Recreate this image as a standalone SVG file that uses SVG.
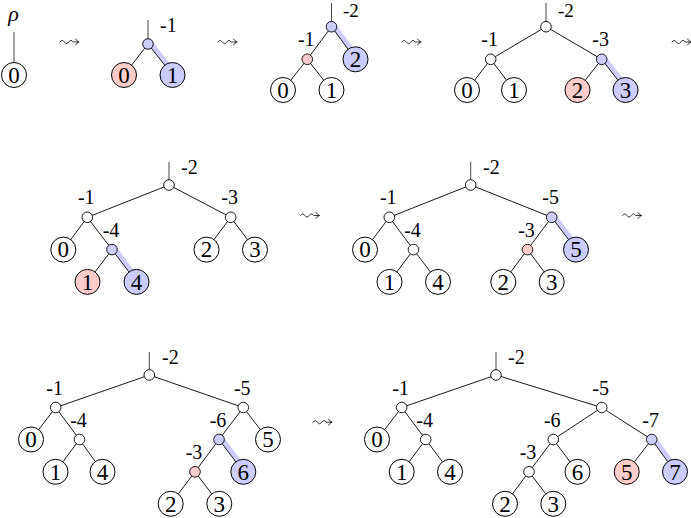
<svg xmlns="http://www.w3.org/2000/svg" width="691" height="518" viewBox="0 0 691 518" font-family="Liberation Serif, DejaVu Serif, serif">
<style>
.e{stroke:#000;stroke-width:0.9;fill:none}
.s{stroke:#444;stroke-width:1;fill:none}
.h{stroke:#ccccff;stroke-width:5;fill:none}
.lf{fill:#fff;stroke:#000;stroke-width:1}
.in{fill:#fff;stroke:#000;stroke-width:0.9}
.pk{fill:#ffcccc}
.bl{fill:#ccccff}
.sqp{fill:none;stroke:#000;stroke-width:0.8;stroke-linecap:round;stroke-linejoin:round}
.d{font-size:23px;text-anchor:middle}
.l{font-size:20px;text-anchor:middle}
.r{font-size:20px;text-anchor:start}
.rho{font-size:22px;font-style:italic;text-anchor:middle}
</style>
<defs>
<g id="sq"><path class="sqp" d="M0,0.5 q2.2,-3.2 4.4,0 t4.4,0 t4.4,0 l5.6,0 M15.5,-2.5 q1.2,2 3.4,3 q-2.2,1 -3.4,3"/></g>
</defs>
<rect width="691" height="518" fill="#fff"/>
<g id="connectors">
<line class="h" x1="150" y1="42.5" x2="174.5" y2="73.5"/>
<line class="h" x1="333.5" y1="25.2" x2="357.5" y2="57.8"/>
<line class="h" x1="603.7" y1="57.8" x2="627.5" y2="88.5"/>
<line class="h" x1="114" y1="248.1" x2="138.5" y2="280.4"/>
<line class="h" x1="553.7" y1="215.8" x2="578" y2="248.1"/>
<line class="h" x1="221" y1="438" x2="245.3" y2="470.3"/>
<line class="h" x1="653.7" y1="438" x2="677" y2="470.3"/>
<line class="s" x1="14" y1="32" x2="14" y2="62.5"/>
<line class="s" x1="148" y1="20" x2="148" y2="44"/>
<line class="s" x1="331.5" y1="3" x2="331.5" y2="26.7"/>
<line class="s" x1="546" y1="3" x2="546" y2="26.7"/>
<line class="s" x1="169" y1="162" x2="169" y2="185"/>
<line class="s" x1="470.7" y1="162" x2="470.7" y2="185"/>
<line class="s" x1="149.3" y1="352" x2="149.3" y2="375"/>
<line class="s" x1="496" y1="352" x2="496" y2="375"/>
<line class="e" x1="148" y1="44" x2="124" y2="75"/>
<line class="e" x1="148" y1="44" x2="172.5" y2="75"/>
<line class="e" x1="331.5" y1="26.7" x2="307.3" y2="59.3"/>
<line class="e" x1="331.5" y1="26.7" x2="355.5" y2="59.3"/>
<line class="e" x1="307.3" y1="59.3" x2="283" y2="90"/>
<line class="e" x1="307.3" y1="59.3" x2="331.5" y2="90"/>
<line class="e" x1="546" y1="26.7" x2="490.7" y2="59.3"/>
<line class="e" x1="546" y1="26.7" x2="601.7" y2="59.3"/>
<line class="e" x1="490.7" y1="59.3" x2="467" y2="90"/>
<line class="e" x1="490.7" y1="59.3" x2="514" y2="90"/>
<line class="e" x1="601.7" y1="59.3" x2="577.5" y2="90"/>
<line class="e" x1="601.7" y1="59.3" x2="625.5" y2="90"/>
<line class="e" x1="169" y1="185" x2="87.3" y2="217.3"/>
<line class="e" x1="169" y1="185" x2="230.7" y2="217.3"/>
<line class="e" x1="87.3" y1="217.3" x2="63.3" y2="249.6"/>
<line class="e" x1="87.3" y1="217.3" x2="112" y2="249.6"/>
<line class="e" x1="112" y1="249.6" x2="87.5" y2="281.9"/>
<line class="e" x1="112" y1="249.6" x2="136.5" y2="281.9"/>
<line class="e" x1="230.7" y1="217.3" x2="206.5" y2="249.6"/>
<line class="e" x1="230.7" y1="217.3" x2="255" y2="249.6"/>
<line class="e" x1="470.7" y1="185" x2="389.3" y2="217.3"/>
<line class="e" x1="470.7" y1="185" x2="551.7" y2="217.3"/>
<line class="e" x1="389.3" y1="217.3" x2="365" y2="249.6"/>
<line class="e" x1="389.3" y1="217.3" x2="413.5" y2="249.6"/>
<line class="e" x1="413.5" y1="249.6" x2="389.5" y2="281.9"/>
<line class="e" x1="413.5" y1="249.6" x2="438" y2="281.9"/>
<line class="e" x1="551.7" y1="217.3" x2="527.5" y2="249.6"/>
<line class="e" x1="551.7" y1="217.3" x2="576" y2="249.6"/>
<line class="e" x1="527.5" y1="249.6" x2="503.3" y2="281.9"/>
<line class="e" x1="527.5" y1="249.6" x2="551.7" y2="281.9"/>
<line class="e" x1="149.3" y1="375" x2="55.7" y2="407.5"/>
<line class="e" x1="149.3" y1="375" x2="243.3" y2="407.5"/>
<line class="e" x1="55.7" y1="407.5" x2="31" y2="439.5"/>
<line class="e" x1="55.7" y1="407.5" x2="79.5" y2="439.5"/>
<line class="e" x1="79.5" y1="439.5" x2="55.5" y2="471.8"/>
<line class="e" x1="79.5" y1="439.5" x2="102.5" y2="471.8"/>
<line class="e" x1="243.3" y1="407.5" x2="219" y2="439.5"/>
<line class="e" x1="243.3" y1="407.5" x2="268" y2="439.5"/>
<line class="e" x1="219" y1="439.5" x2="195" y2="471.8"/>
<line class="e" x1="219" y1="439.5" x2="243.3" y2="471.8"/>
<line class="e" x1="195" y1="471.8" x2="170.7" y2="503.8"/>
<line class="e" x1="195" y1="471.8" x2="219.3" y2="503.8"/>
<line class="e" x1="496" y1="375" x2="401.7" y2="407.5"/>
<line class="e" x1="496" y1="375" x2="601.7" y2="407.5"/>
<line class="e" x1="401.7" y1="407.5" x2="377" y2="439.5"/>
<line class="e" x1="401.7" y1="407.5" x2="425.7" y2="439.5"/>
<line class="e" x1="425.7" y1="439.5" x2="401.7" y2="471.8"/>
<line class="e" x1="425.7" y1="439.5" x2="450" y2="471.8"/>
<line class="e" x1="601.7" y1="407.5" x2="553.3" y2="439.5"/>
<line class="e" x1="601.7" y1="407.5" x2="651.7" y2="439.5"/>
<line class="e" x1="553.3" y1="439.5" x2="529" y2="471.8"/>
<line class="e" x1="553.3" y1="439.5" x2="577.5" y2="471.8"/>
<line class="e" x1="529" y1="471.8" x2="505" y2="503.8"/>
<line class="e" x1="529" y1="471.8" x2="553.3" y2="503.8"/>
<line class="e" x1="651.7" y1="439.5" x2="626.7" y2="471.8"/>
<line class="e" x1="651.7" y1="439.5" x2="675" y2="471.8"/>
</g>
<g id="arrows">
<use href="#sq" x="60" y="41.5"/>
<use href="#sq" x="218" y="41.5"/>
<use href="#sq" x="402" y="41.5"/>
<use href="#sq" x="672" y="41.5"/>
<use href="#sq" x="300.5" y="215"/>
<use href="#sq" x="622.5" y="215"/>
<use href="#sq" x="313" y="421.7"/>
</g>
<g id="p1-rho"><text class="rho" x="13.5" y="21">ρ</text></g>
<g id="p1-leaf0"><circle class="lf" cx="14" cy="75" r="12.5"/><text class="d" x="14" y="82.7">0</text></g>
<g id="p2-n1"><circle class="in bl" cx="148" cy="44" r="5.3"/><text class="r" x="160" y="32">-1</text></g>
<g id="p2-leaf0"><circle class="lf pk" cx="124" cy="75" r="12.5"/><text class="d" x="124" y="82.7">0</text></g>
<g id="p2-leaf1"><circle class="lf bl" cx="172.5" cy="75" r="12.5"/><text class="d" x="172.5" y="82.7">1</text></g>
<g id="p3-n2"><circle class="in bl" cx="331.5" cy="26.7" r="5.3"/><text class="r" x="343" y="17" style="font-size:19px">-2</text></g>
<g id="p3-n1"><circle class="in pk" cx="307.3" cy="59.3" r="5.3"/><text class="l" x="306.3" y="46.3">-1</text></g>
<g id="p3-leaf2"><circle class="lf bl" cx="355.5" cy="59.3" r="12.5"/><text class="d" x="355.5" y="67">2</text></g>
<g id="p3-leaf0"><circle class="lf" cx="283" cy="90" r="12.5"/><text class="d" x="283" y="97.7">0</text></g>
<g id="p3-leaf1"><circle class="lf" cx="331.5" cy="90" r="12.5"/><text class="d" x="331.5" y="97.7">1</text></g>
<g id="p4-n2"><circle class="in" cx="546" cy="26.7" r="5.3"/><text class="r" x="558" y="17" style="font-size:19px">-2</text></g>
<g id="p4-n1"><circle class="in" cx="490.7" cy="59.3" r="5.3"/><text class="l" x="489.7" y="46.3">-1</text></g>
<g id="p4-n3"><circle class="in bl" cx="601.7" cy="59.3" r="5.3"/><text class="l" x="600.7" y="46.3">-3</text></g>
<g id="p4-leaf0"><circle class="lf" cx="467" cy="90" r="12.5"/><text class="d" x="467" y="97.7">0</text></g>
<g id="p4-leaf1"><circle class="lf" cx="514" cy="90" r="12.5"/><text class="d" x="514" y="97.7">1</text></g>
<g id="p4-leaf2"><circle class="lf pk" cx="577.5" cy="90" r="12.5"/><text class="d" x="577.5" y="97.7">2</text></g>
<g id="p4-leaf3"><circle class="lf bl" cx="625.5" cy="90" r="12.5"/><text class="d" x="625.5" y="97.7">3</text></g>
<g id="p5-n2"><circle class="in" cx="169" cy="185" r="5.3"/><text class="r" x="181" y="173.5">-2</text></g>
<g id="p5-n1"><circle class="in" cx="87.3" cy="217.3" r="5.3"/><text class="l" x="86.3" y="204.3">-1</text></g>
<g id="p5-n3"><circle class="in" cx="230.7" cy="217.3" r="5.3"/><text class="l" x="229.7" y="204.3">-3</text></g>
<g id="p5-n4"><circle class="in bl" cx="112" cy="249.6" r="5.3"/><text class="l" x="111" y="236.6">-4</text></g>
<g id="p5-leaf0"><circle class="lf" cx="63.3" cy="249.6" r="12.5"/><text class="d" x="63.3" y="257.3">0</text></g>
<g id="p5-leaf2"><circle class="lf" cx="206.5" cy="249.6" r="12.5"/><text class="d" x="206.5" y="257.3">2</text></g>
<g id="p5-leaf3"><circle class="lf" cx="255" cy="249.6" r="12.5"/><text class="d" x="255" y="257.3">3</text></g>
<g id="p5-leaf1"><circle class="lf pk" cx="87.5" cy="281.9" r="12.5"/><text class="d" x="87.5" y="289.6">1</text></g>
<g id="p5-leaf4"><circle class="lf bl" cx="136.5" cy="281.9" r="12.5"/><text class="d" x="136.5" y="289.6">4</text></g>
<g id="p6-n2"><circle class="in" cx="470.7" cy="185" r="5.3"/><text class="r" x="483" y="173.5">-2</text></g>
<g id="p6-n1"><circle class="in" cx="389.3" cy="217.3" r="5.3"/><text class="l" x="388.3" y="204.3">-1</text></g>
<g id="p6-n5"><circle class="in bl" cx="551.7" cy="217.3" r="5.3"/><text class="l" x="550.7" y="204.3">-5</text></g>
<g id="p6-n4"><circle class="in" cx="413.5" cy="249.6" r="5.3"/><text class="l" x="412.5" y="236.6">-4</text></g>
<g id="p6-n3"><circle class="in pk" cx="527.5" cy="249.6" r="5.3"/><text class="l" x="526.5" y="236.6">-3</text></g>
<g id="p6-leaf0"><circle class="lf" cx="365" cy="249.6" r="12.5"/><text class="d" x="365" y="257.3">0</text></g>
<g id="p6-leaf5"><circle class="lf bl" cx="576" cy="249.6" r="12.5"/><text class="d" x="576" y="257.3">5</text></g>
<g id="p6-leaf1"><circle class="lf" cx="389.5" cy="281.9" r="12.5"/><text class="d" x="389.5" y="289.6">1</text></g>
<g id="p6-leaf4"><circle class="lf" cx="438" cy="281.9" r="12.5"/><text class="d" x="438" y="289.6">4</text></g>
<g id="p6-leaf2"><circle class="lf" cx="503.3" cy="281.9" r="12.5"/><text class="d" x="503.3" y="289.6">2</text></g>
<g id="p6-leaf3"><circle class="lf" cx="551.7" cy="281.9" r="12.5"/><text class="d" x="551.7" y="289.6">3</text></g>
<g id="p7-n2"><circle class="in" cx="149.3" cy="375" r="5.3"/><text class="r" x="162" y="363.5">-2</text></g>
<g id="p7-n1"><circle class="in" cx="55.7" cy="407.5" r="5.3"/><text class="l" x="54.7" y="394.5">-1</text></g>
<g id="p7-n5"><circle class="in" cx="243.3" cy="407.5" r="5.3"/><text class="l" x="242.3" y="394.5">-5</text></g>
<g id="p7-n4"><circle class="in" cx="79.5" cy="439.5" r="5.3"/><text class="l" x="78.5" y="426.5">-4</text></g>
<g id="p7-n6"><circle class="in bl" cx="219" cy="439.5" r="5.3"/><text class="l" x="218" y="426.5">-6</text></g>
<g id="p7-n3"><circle class="in pk" cx="195" cy="471.8" r="5.3"/><text class="l" x="194" y="458.8">-3</text></g>
<g id="p7-leaf0"><circle class="lf" cx="31" cy="439.5" r="12.5"/><text class="d" x="31" y="447.2">0</text></g>
<g id="p7-leaf5"><circle class="lf" cx="268" cy="439.5" r="12.5"/><text class="d" x="268" y="447.2">5</text></g>
<g id="p7-leaf1"><circle class="lf" cx="55.5" cy="471.8" r="12.5"/><text class="d" x="55.5" y="479.5">1</text></g>
<g id="p7-leaf4"><circle class="lf" cx="102.5" cy="471.8" r="12.5"/><text class="d" x="102.5" y="479.5">4</text></g>
<g id="p7-leaf6"><circle class="lf bl" cx="243.3" cy="471.8" r="12.5"/><text class="d" x="243.3" y="479.5">6</text></g>
<g id="p7-leaf2"><circle class="lf" cx="170.7" cy="503.8" r="12.5"/><text class="d" x="170.7" y="511.5">2</text></g>
<g id="p7-leaf3"><circle class="lf" cx="219.3" cy="503.8" r="12.5"/><text class="d" x="219.3" y="511.5">3</text></g>
<g id="p8-n2"><circle class="in" cx="496" cy="375" r="5.3"/><text class="r" x="508" y="363.5">-2</text></g>
<g id="p8-n1"><circle class="in" cx="401.7" cy="407.5" r="5.3"/><text class="l" x="400.7" y="394.5">-1</text></g>
<g id="p8-n5"><circle class="in" cx="601.7" cy="407.5" r="5.3"/><text class="l" x="600.7" y="394.5">-5</text></g>
<g id="p8-n4"><circle class="in" cx="425.7" cy="439.5" r="5.3"/><text class="l" x="424.7" y="426.5">-4</text></g>
<g id="p8-n6"><circle class="in" cx="553.3" cy="439.5" r="5.3"/><text class="l" x="552.3" y="426.5">-6</text></g>
<g id="p8-n7"><circle class="in bl" cx="651.7" cy="439.5" r="5.3"/><text class="l" x="650.7" y="426.5">-7</text></g>
<g id="p8-n3"><circle class="in" cx="529" cy="471.8" r="5.3"/><text class="l" x="528" y="458.8">-3</text></g>
<g id="p8-leaf0"><circle class="lf" cx="377" cy="439.5" r="12.5"/><text class="d" x="377" y="447.2">0</text></g>
<g id="p8-leaf1"><circle class="lf" cx="401.7" cy="471.8" r="12.5"/><text class="d" x="401.7" y="479.5">1</text></g>
<g id="p8-leaf4"><circle class="lf" cx="450" cy="471.8" r="12.5"/><text class="d" x="450" y="479.5">4</text></g>
<g id="p8-leaf6"><circle class="lf" cx="577.5" cy="471.8" r="12.5"/><text class="d" x="577.5" y="479.5">6</text></g>
<g id="p8-leaf5"><circle class="lf pk" cx="626.7" cy="471.8" r="12.5"/><text class="d" x="626.7" y="479.5">5</text></g>
<g id="p8-leaf7"><circle class="lf bl" cx="675" cy="471.8" r="12.5"/><text class="d" x="675" y="479.5">7</text></g>
<g id="p8-leaf2"><circle class="lf" cx="505" cy="503.8" r="12.5"/><text class="d" x="505" y="511.5">2</text></g>
<g id="p8-leaf3"><circle class="lf" cx="553.3" cy="503.8" r="12.5"/><text class="d" x="553.3" y="511.5">3</text></g>
</svg>
